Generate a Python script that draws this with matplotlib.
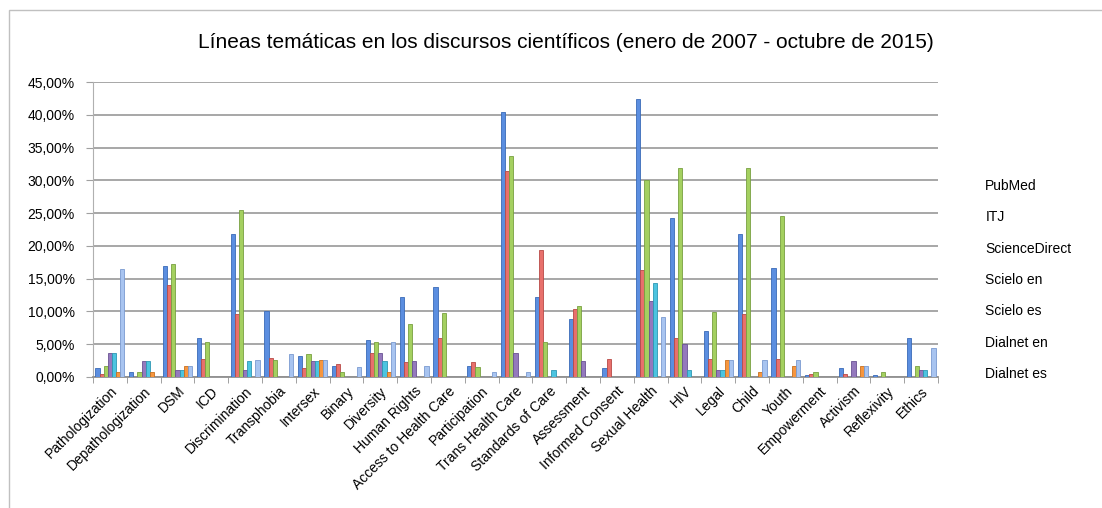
import matplotlib
matplotlib.use("Agg")
import matplotlib.pyplot as plt
import numpy as np
from matplotlib.patches import Rectangle

plt.rcParams['font.family'] = ['Liberation Sans', 'DejaVu Sans']

categories = ['Pathologization', 'Depathologization', 'DSM', 'ICD', 'Discrimination',
              'Transphobia', 'Intersex', 'Binary', 'Diversity', 'Human Rights',
              'Access to Health Care', 'Participation', 'Trans Health Care',
              'Standards of Care', 'Assessment', 'Informed Consent', 'Sexual Health',
              'HIV', 'Legal', 'Child', 'Youth', 'Empowerment', 'Activism',
              'Reflexivity', 'Ethics']

# valores en %
pubmed        = [1.3, 0.8, 17.0, 6.0, 21.8, 10.0, 3.2, 1.7, 5.6, 12.2, 13.7, 1.7, 40.5, 12.2, 8.9, 1.3, 42.4, 24.2, 7.0, 21.8, 16.6, 0.3, 1.3, 0.3, 6.0]
itj           = [0.4, 0.0, 14.1, 2.8, 9.6, 2.9, 1.3, 2.0, 3.6, 2.3, 5.9, 2.3, 31.4, 19.4, 10.4, 2.8, 16.3, 5.9, 2.8, 9.6, 2.8, 0.5, 0.5, 0.0, 0.0]
sciencedirect = [1.7, 0.8, 17.2, 5.3, 25.5, 2.6, 3.5, 0.7, 5.3, 8.1, 9.8, 1.6, 33.7, 5.3, 10.8, 0.0, 30.1, 31.9, 9.9, 31.9, 24.6, 0.8, 0.0, 0.8, 1.7]
scielo_en     = [3.7, 2.4, 1.1, 0.0, 1.1, 0.0, 2.4, 0.0, 3.7, 2.4, 0.0, 0.0, 3.7, 0.0, 2.4, 0.0, 11.6, 5.0, 1.1, 0.0, 0.0, 0.0, 2.4, 0.0, 1.1]
scielo_es     = [3.7, 2.4, 1.1, 0.0, 2.4, 0.0, 2.4, 0.0, 2.4, 0.0, 0.0, 0.0, 0.0, 1.1, 0.0, 0.0, 14.3, 1.1, 1.1, 0.0, 0.0, 0.0, 0.0, 0.0, 1.1]
dialnet_en    = [0.8, 0.8, 1.7, 0.0, 0.0, 0.0, 2.6, 0.0, 0.8, 0.0, 0.0, 0.0, 0.0, 0.0, 0.0, 0.0, 0.0, 0.0, 2.6, 0.8, 1.7, 0.0, 1.7, 0.0, 0.0]
dialnet_es    = [16.5, 0.0, 1.7, 0.0, 2.6, 3.5, 2.6, 1.6, 5.4, 1.7, 0.0, 0.8, 0.8, 0.0, 0.0, 0.0, 9.1, 0.0, 2.6, 2.6, 2.6, 0.0, 1.7, 0.0, 4.5]

series_names = ['PubMed', 'ITJ', 'ScienceDirect', 'Scielo en', 'Scielo es', 'Dialnet en', 'Dialnet es']
series = [pubmed, itj, sciencedirect, scielo_en, scielo_es, dialnet_en, dialnet_es]
colors = ['#5b8ee0', '#e8706c', '#a4d060', '#9479bd', '#4cc4e0', '#f7963e', '#a8c4f0']
edges = ['#3a6ab8', '#b84a46', '#78a040', '#6a5294', '#2e98b4', '#c8701e', '#7a9ad0']

fig = plt.figure(figsize=(11.02, 5.08), dpi=100)
fig.patches.append(Rectangle((9 / 1102, -0.01), 1.0, (508 - 10) / 508 + 0.01,
                             transform=fig.transFigure, fill=False,
                             edgecolor='#c0c0c0', linewidth=1))
ax = fig.add_axes([93 / 1102, 131 / 508, 845 / 1102, 295 / 508])

n = len(series)
x = np.arange(len(categories))
w = 0.86 / n
for i, (vals, c, e) in enumerate(zip(series, colors, edges)):
    ax.bar(x - 0.43 + w * (i + 0.5), np.array(vals) / 100.0, width=w,
           color=c, edgecolor=e, linewidth=0.6, label=series_names[i], zorder=3)

ax.set_xlim(-0.5, len(categories) - 0.5)
ax.set_ylim(0, 0.45)
yt = np.arange(0, 0.4501, 0.05)
ax.set_yticks(yt)
ax.set_yticklabels([('%.2f%%' % (v * 100)).replace('.', ',') for v in yt], fontsize=10)
ax.yaxis.grid(True, color='#a0a0a0', linewidth=1.3, zorder=0)
ax.set_axisbelow(True)
ax.tick_params(axis='y', length=5, color='#a0a0a0', pad=8)

ax.set_xticks(x)
ax.set_xticklabels(categories, rotation=45, ha='right', rotation_mode='anchor', fontsize=10)
ax.tick_params(axis='x', length=0, pad=5)
ax.set_xticks(np.arange(-0.5, len(categories)), minor=True)
ax.tick_params(axis='x', which='minor', length=4, color='#909090')

for s in ['top', 'right']:
    ax.spines[s].set_visible(False)
ax.spines['left'].set_color('#b0b0b0')
ax.spines['bottom'].set_color('#909090')
ax.spines['bottom'].set_linewidth(1.3)

fig.text(566 / 1102, (508 - 42) / 508,
         u'Líneas temáticas en los discursos científicos (enero de 2007 - octubre de 2015)',
         fontsize=15, ha='center', va='center')

leg = ax.legend(loc='center left', bbox_to_anchor=(1.056, 0.329), frameon=False,
                fontsize=10, handlelength=0, handletextpad=0, labelspacing=1.25,
                borderpad=0, borderaxespad=0)
for h in leg.legend_handles:
    h.set_visible(False)

fig.savefig('out.png', dpi=100)
